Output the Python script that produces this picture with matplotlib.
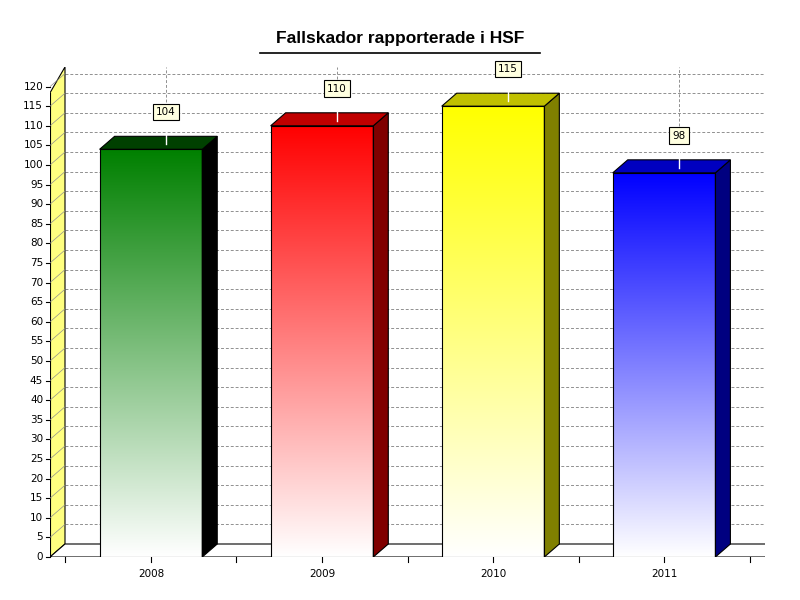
import numpy as np
import matplotlib
matplotlib.use("Agg")
import matplotlib.pyplot as plt
from matplotlib import transforms
from matplotlib.colors import LinearSegmentedColormap
from matplotlib.patches import Polygon

years = ["2008", "2009", "2010", "2011"]
values = [104, 110, 115, 98]
front_colors = ["#008000", "#ff0000", "#ffff00", "#0000ff"]
side_colors = ["#000000", "#800000", "#808000", "#000080"]
top_colors = ["#004000", "#c00000", "#c0c000", "#0000c0"]
yticks = list(range(0, 125, 5))

fig = plt.figure(figsize=(8, 6), dpi=100)
ax = fig.add_axes([50/800, 43/600, 715/800, 490/600])
ax.set_xlim(-0.59, 3.59)
ax.set_ylim(0, 125)
ax.axis("off")
DX, DY = 15, 13
back = transforms.offset_copy(ax.transData, fig, x=DX, y=DY, units="dots")
x0, x1 = -0.59, 3.59
ytop = 125

# left wall
ax.add_patch(Polygon([[x0, 0], [x0, ytop], [x0, ytop]], closed=True))
wall = Polygon([[x0, 0], [x0, ytop - 3.3]], closed=False)
# draw wall as polygon mixing transforms via display coords
def disp(x, y, t):
    return t.transform((x, y))
inv = ax.transData.inverted()
def pt(x, y, t):
    return inv.transform(disp(x, y, t))
wall_pts = [pt(x0, 0, ax.transData), pt(x0, 0, back), pt(x0, ytop - 3.3, back), pt(x0, ytop - 3.3 - 0, ax.transData)]
wall_pts[3] = pt(x0, ytop - 6.6, ax.transData)
ax.add_patch(Polygon(wall_pts, closed=True, facecolor="#ffff80", edgecolor="black", lw=0.8, zorder=2))
floor_pts = [pt(x0, 0, ax.transData), pt(x1, 0, ax.transData), pt(x1, 0, back), pt(x0, 0, back)]
ax.add_patch(Polygon(floor_pts, closed=True, facecolor="white", edgecolor="black", lw=0.8, zorder=2))

# gridlines on back wall
for v in yticks[1:]:
    ax.plot([x0, x1], [v, v], transform=back, color="#909090", ls=(0, (3, 2)), lw=0.7, zorder=1)
    ax.plot([pt(x0, v, ax.transData)[0], pt(x0, v, back)[0]],
            [pt(x0, v, ax.transData)[1], pt(x0, v, back)[1]], color="#909090", lw=0.5, zorder=3)
for i in range(len(years)):
    ax.plot([i, i], [values[i], ytop - 3.3], transform=back, color="#909090", ls=(0, (3, 2)), lw=0.7, zorder=1)

w = 0.3
for i, (v, fc, sc, tc) in enumerate(zip(values, front_colors, side_colors, top_colors)):
    cmap = LinearSegmentedColormap.from_list("g", ["white", fc])
    grad = np.linspace(0, 1, 256).reshape(-1, 1)
    ax.imshow(grad, cmap=cmap, origin="lower", extent=[i - w, i + w, 0, v], aspect="auto", zorder=5)
    ax.add_patch(Polygon([[i - w, 0], [i + w, 0], [i + w, v], [i - w, v]], closed=True, fill=False, edgecolor="black", lw=0.8, zorder=6))
    side = [pt(i + w, 0, ax.transData), pt(i + w, 0, back), pt(i + w, v, back), pt(i + w, v, ax.transData)]
    ax.add_patch(Polygon(side, closed=True, facecolor=sc, edgecolor="black", lw=0.8, zorder=5))
    top = [pt(i - w, v, ax.transData), pt(i + w, v, ax.transData), pt(i + w, v, back), pt(i - w, v, back)]
    ax.add_patch(Polygon(top, closed=True, facecolor=tc, edgecolor="black", lw=0.8, zorder=5))
    lx, ly = pt(i, v, back)
    ax.plot([lx, lx], [ly - 2, v + 8], color="white", lw=1, zorder=7)
    ax.text(lx, v + 9.5, str(v), ha="center", va="center", fontsize=7.5, zorder=8,
            bbox=dict(boxstyle="square,pad=0.3", facecolor="#ffffe0", edgecolor="black", lw=0.8))
    ax.text(i, -3, years[i], ha="center", va="top", fontsize=7.5)

# y axis ticks and labels
for v in yticks:
    ax.plot([x0 - 0.025, x0], [v, v], color="black", lw=0.8, clip_on=False)
    ax.text(x0 - 0.04, v, str(v), ha="right", va="center", fontsize=7.5)
ax.plot([x0, x0], [0, ytop - 6.6], color="black", lw=0.8)
for xm in np.arange(-0.5, 3.6, 0.5):
    ax.plot([xm, xm], [0, -1.2], color="black", lw=0.8, clip_on=False)

fig.text(0.5, 0.935, "Fallskador rapporterade i HSF", ha="center", va="center",
         fontsize=12.5, fontweight="bold", family="Liberation Sans")
fig.add_artist(plt.Line2D([260/800, 540/800], [0.912, 0.912], color="black", lw=1.2))
fig.savefig("out.png", dpi=100)
